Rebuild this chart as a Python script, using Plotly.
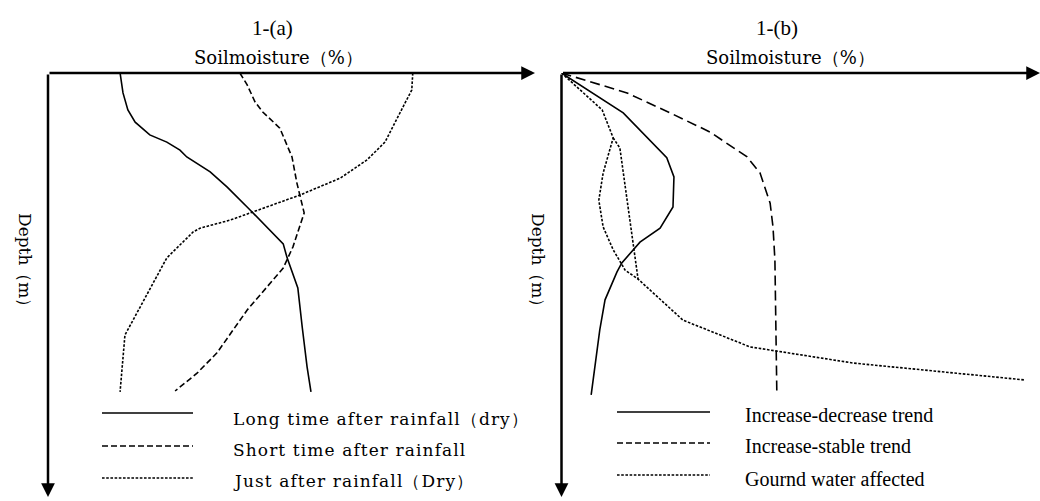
import plotly.graph_objects as go

W, H = 1040, 501

# ---------------- data (relative soil moisture 0-100 along axis, relative depth 0-100) -------------
# Panel 1-(a)
a_long_x = [14.8, 15.4, 16.4, 17.9, 20.9, 24.4, 27.1, 28.5, 33.3, 36.8, 41.5, 46.2, 48.3, 49.1, 51.3, 52.2, 53.2, 54.0]
a_long_d = [0, 4.7, 8.7, 11.6, 14.6, 16.3, 18.2, 19.8, 23.3, 26.9, 32.3, 37.7, 40.3, 43.6, 50.7, 59.9, 69.3, 75.2]

a_short_x = [39.4, 40.9, 42.5, 44.1, 47.6, 50.1, 51.1, 52.6, 50.3, 48.3, 40.9, 34.7, 30.6, 26.1]
a_short_d = [0, 2.8, 6.8, 9.2, 13.0, 19.8, 25.9, 33.0, 41.0, 46.0, 55.9, 66.0, 70.8, 75.0]

a_just_x = [74.9, 74.7, 73.3, 70.8, 69.2, 65.5, 60.0, 51.7, 42.1, 37.4, 31.2, 29.8, 24.4, 15.8, 14.8]
a_just_d = [0, 4.0, 7.1, 12.7, 16.3, 20.5, 24.8, 28.8, 32.8, 34.7, 36.6, 37.5, 43.6, 61.8, 75.2]

# Panel 1-(b)
b_incdec_x = [0, 12.9, 22.0, 23.5, 23.3, 20.6, 16.4, 12.6, 11.6, 9.1, 8.0, 6.2]
b_incdec_d = [0, 9.4, 20.0, 24.5, 31.6, 36.6, 39.9, 44.8, 46.9, 53.5, 60.6, 75.9]

b_incstab_x = [0, 13.7, 22.7, 31.0, 38.8, 41.5, 43.6, 44.2, 44.6, 45.0]
b_incstab_d = [0, 4.7, 9.4, 13.9, 19.8, 23.6, 30.7, 36.3, 44.1, 75.5]

b_gw_x = [0, 8.5, 10.8, 9.7, 8.7, 7.8, 8.7, 10.8, 13.3, 16.0, 25.4, 39.4, 60.9, 96.9]
b_gw_d = [0, 8.7, 15.3, 19.8, 23.6, 30.0, 36.3, 41.7, 46.5, 48.6, 58.3, 64.6, 68.4, 72.4]
b_gw_branch_x = [10.8, 12.2, 16.0]
b_gw_branch_d = [15.3, 17.7, 48.6]

a_labels = ["Long time after rainfall（dry）", "Short time after rainfall", "Just after rainfall（Dry）"]
b_labels = ["Increase-decrease trend", "Increase-stable trend", "Gournd water affected"]
panel_titles = ["1-(a)", "1-(b)"]
x_title = "Soilmoisture（%）"
y_title = "Depth（m）"

# ---------------- styles ----------------
WIDE = "DejaVu Serif"
TIMES = "Liberation Serif"
a_dash = ["solid", "6px,3px", "2.6px,1.6px"]
b_dash = ["solid", "10px,5px", "2.6px,1.6px"]


def px(x):
    return x / W


def py(y):
    return 1 - y / H


def spaced(t, s=1.0):
    return '<span style="letter-spacing:%.1fpx">%s</span>' % (s, t)


fig = go.Figure()

a_series = [(a_long_x, a_long_d), (a_short_x, a_short_d), (a_just_x, a_just_d)]
for (xs, ds), lab, dsh in zip(a_series, a_labels, a_dash):
    fig.add_trace(go.Scatter(x=xs, y=ds, mode="lines", name=lab, showlegend=False,
                             line=dict(color="black", width=1.6, dash=dsh),
                             xaxis="x", yaxis="y"))

b_series = [(b_incdec_x, b_incdec_d), (b_incstab_x, b_incstab_d), (b_gw_x, b_gw_d)]
for (xs, ds), lab, dsh in zip(b_series, b_labels, b_dash):
    fig.add_trace(go.Scatter(x=xs, y=ds, mode="lines", name=lab, showlegend=False,
                             line=dict(color="black", width=1.6, dash=dsh),
                             xaxis="x2", yaxis="y2"))
fig.add_trace(go.Scatter(x=b_gw_branch_x, y=b_gw_branch_d, mode="lines", showlegend=False,
                         line=dict(color="black", width=1.6, dash=b_dash[2]),
                         xaxis="x2", yaxis="y2"))

ydom = [py(497), py(73)]
ax_common = dict(showgrid=False, zeroline=False, showline=False, showticklabels=False, ticks="")
fig.update_layout(
    width=W, height=H, margin=dict(l=0, r=0, t=0, b=0),
    paper_bgcolor="white", plot_bgcolor="white",
    showlegend=False,
    xaxis=dict(domain=[px(48), px(535)], range=[0, 100], **ax_common),
    yaxis=dict(domain=ydom, range=[100, 0], **ax_common),
    xaxis2=dict(domain=[px(561.5), 1.0], range=[0, 100], anchor="y2", **ax_common),
    yaxis2=dict(domain=ydom, range=[100, 0], anchor="x2", **ax_common),
)

annotations = []
# axis arrows
for xr, yr in [("x", "y"), ("x2", "y2")]:
    annotations.append(dict(x=100, y=0, ax=0, ay=0, xref=xr, yref=yr, axref=xr, ayref=yr,
                            text="", showarrow=True, arrowhead=2, arrowsize=1.1,
                            arrowwidth=2.5, arrowcolor="black"))
    annotations.append(dict(x=0, y=100, ax=0, ay=0, xref=xr, yref=yr, axref=xr, ayref=yr,
                            text="", showarrow=True, arrowhead=2, arrowsize=1.1,
                            arrowwidth=2.5, arrowcolor="black"))

# titles
for t, cx in zip(panel_titles, [272, 777]):
    annotations.append(dict(x=px(cx), y=py(28), xref="paper", yref="paper", text=t,
                            showarrow=False, xanchor="center", yanchor="middle",
                            font=dict(family=TIMES, size=21, color="black")))
for cx in [278, 790]:
    annotations.append(dict(x=px(cx), y=py(57), xref="paper", yref="paper", text=x_title,
                            showarrow=False, xanchor="center", yanchor="middle",
                            font=dict(family=WIDE, size=18, color="black")))
for cx in [25, 538]:
    annotations.append(dict(x=px(cx), y=py(264), xref="paper", yref="paper", text=y_title,
                            showarrow=False, xanchor="center", yanchor="middle", textangle=90,
                            font=dict(family=WIDE, size=17, color="black")))

# legends (drawn manually)
shapes = []
a_rows_line = [413, 446, 478]
a_rows_text = [419, 450, 481]
for lab, dsh, yl, yt in zip(a_labels, a_dash, a_rows_line, a_rows_text):
    shapes.append(dict(type="line", xref="paper", yref="paper", x0=px(102), x1=px(193),
                       y0=py(yl), y1=py(yl), line=dict(color="black", width=1.6, dash=dsh)))
    annotations.append(dict(x=px(231), y=py(yt), xref="paper", yref="paper", text=spaced(lab, 1.1),
                            showarrow=False, xanchor="left", yanchor="middle",
                            font=dict(family=WIDE, size=17, color="black")))

b_rows_line = [412, 443, 475]
b_rows_text = [415, 446, 479]
for lab, dsh, yl, yt in zip(b_labels, ["solid", "6px,3px", "2.6px,1.6px"], b_rows_line, b_rows_text):
    shapes.append(dict(type="line", xref="paper", yref="paper", x0=px(617), x1=px(710),
                       y0=py(yl), y1=py(yl), line=dict(color="black", width=1.6, dash=dsh)))
    annotations.append(dict(x=px(743), y=py(yt), xref="paper", yref="paper", text=lab,
                            showarrow=False, xanchor="left", yanchor="middle",
                            font=dict(family=TIMES, size=20, color="black")))

fig.update_layout(annotations=annotations, shapes=shapes)
fig.write_html("out.html")
